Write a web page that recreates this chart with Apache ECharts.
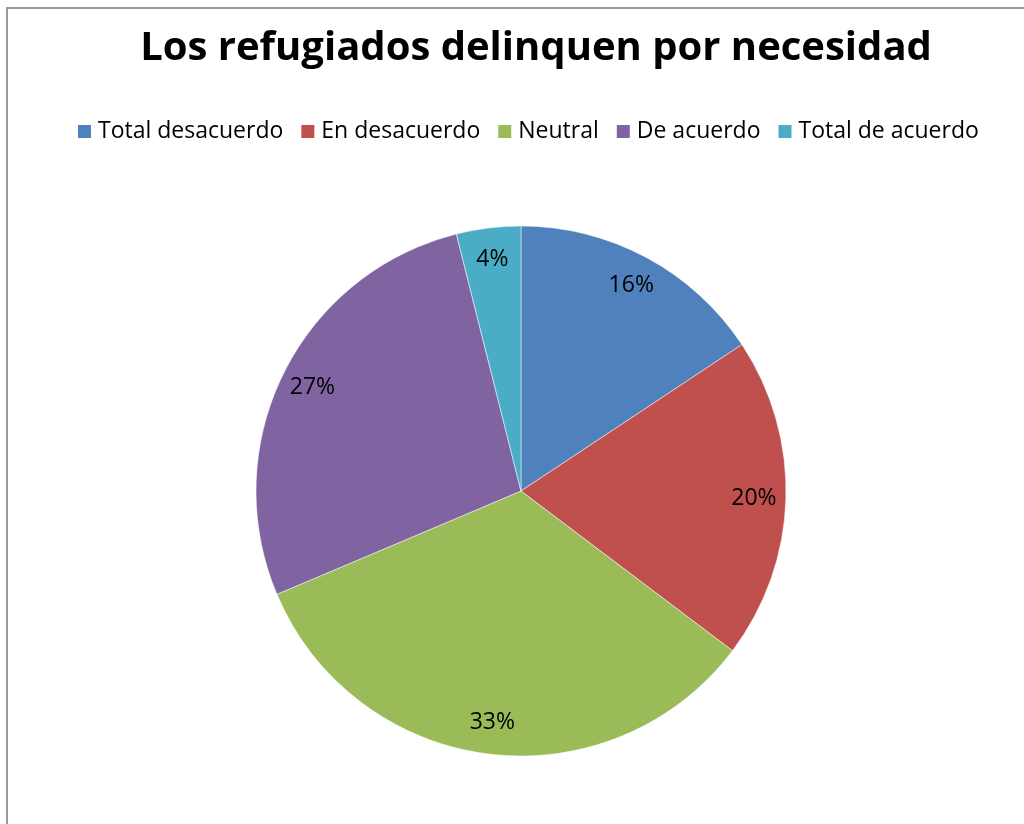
<!DOCTYPE html>
<html>
<head>
<meta charset="utf-8">
<script src="https://cdn.jsdelivr.net/npm/echarts@6/dist/echarts.min.js"></script>
<style>
  html, body { margin: 0; padding: 0; background: #fff; }
  #chart { width: 1024px; height: 824px; }
</style>
</head>
<body>
<div id="chart"></div>
<script>
// respondents per answer (shown as percentages)
const categories = ['Total desacuerdo', 'En desacuerdo', 'Neutral', 'De acuerdo', 'Total de acuerdo']
const counts = [8, 10, 17, 14, 2]
const colors = ['#4F81BD', '#C0504D', '#9BBB59', '#8064A2', '#4BACC6']
const titleText = 'Los refugiados delinquen por necesidad'

const font = 'Open Sans'
const chart = echarts.init(document.getElementById('chart'))

const pieData = categories.map((name, i) => ({
  name,
  value: counts[i],
  itemStyle: { color: colors[i] }
}))

const option = {
  animation: false,
  textStyle: { fontFamily: font },
  title: {
    text: titleText,
    left: 531,
    textAlign: 'center',
    top: 24,
    textStyle: { fontFamily: font, fontSize: 40, fontWeight: 'bold', color: '#000' }
  },
  legend: {
    data: categories,
    top: 115,
    left: 71,
    itemWidth: 15,
    itemHeight: 15,
    itemGap: 16,
    icon: 'rect',
    textStyle: { fontFamily: font, fontSize: 23, color: '#000', padding: [0, 0, 0, 1] }
  },
  graphic: [{
    type: 'rect',
    shape: { x: 7, y: 8, width: 1100, height: 900 },
    style: { fill: 'none', stroke: '#9a9a9a', lineWidth: 2 },
    silent: true,
    z: -10
  }],
  series: [
    {
      type: 'pie',
      center: [521, 491],
      radius: 265,
      startAngle: 90,
      clockwise: true,
      data: pieData,
      label: { show: false },
      labelLine: { show: false },
      itemStyle: { borderColor: '#fff', borderWidth: 0.5 },
      emphasis: { disabled: true }
    },
    {
      // transparent ring only used to place the percent labels near the rim
      type: 'pie',
      center: [521, 491],
      radius: [195, 265],
      startAngle: 90,
      clockwise: true,
      silent: true,
      data: pieData.map(d => ({ name: d.name, value: d.value, itemStyle: { color: 'rgba(0,0,0,0)' } })),
      label: {
        show: true,
        position: 'inside',
        formatter: p => Math.round(p.percent) + '%',
        fontFamily: font,
        fontSize: 23,
        color: '#000'
      },
      labelLine: { show: false },
      emphasis: { disabled: true }
    }
  ]
}

chart.setOption(option)
</script>
</body>
</html>
